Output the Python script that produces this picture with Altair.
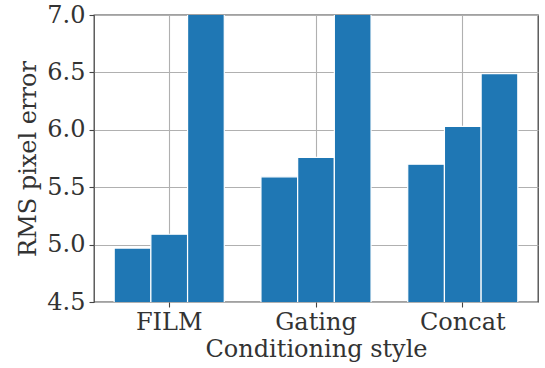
import altair as alt
import pandas as pd

groups = ["FILM", "Gating", "Concat"]
series = ["bar 1", "bar 2", "bar 3"]
bar1 = [4.97, 5.59, 5.70]
bar2 = [5.09, 5.76, 6.03]
bar3 = [7.40, 7.40, 6.49]
y_ticks = [4.5, 5.0, 5.5, 6.0, 6.5, 7.0]

rows = []
for i, g in enumerate(groups):
    for s, vals in zip(series, [bar1, bar2, bar3]):
        rows.append({"group": g, "series": s, "value": vals[i]})
df = pd.DataFrame(rows)

FONT = "DejaVu Serif"
TEXT = "#333333"
FS = 24

chart = (
    alt.Chart(df)
    .mark_bar(clip=True, color="#1f77b4", stroke="white", strokeWidth=1.2)
    .encode(
        x=alt.X(
            "group:N",
            sort=groups,
            scale=alt.Scale(paddingInner=0.25, paddingOuter=0.1375),
            axis=alt.Axis(
                title="Conditioning style",
                labelAngle=0,
                grid=True,
                bandPosition=0.5,
                gridColor="#b0b0b0",
                gridWidth=1.1,
                domain=False,
                ticks=True,
                tickSize=5,
                tickColor="#444444",
                tickWidth=1.1,
                labelPadding=3,
                labelFont=FONT,
                labelFontSize=FS,
                labelColor=TEXT,
                titleFont=FONT,
                titleFontSize=FS,
                titleFontWeight="normal",
                titleColor=TEXT,
                titlePadding=3,
            ),
        ),
        xOffset=alt.XOffset("series:N", sort=series, scale=alt.Scale(paddingInner=0, paddingOuter=0)),
        y=alt.Y(
            "value:Q",
            scale=alt.Scale(domain=[4.5, 7.0], nice=False, zero=False),
            axis=alt.Axis(
                title="RMS pixel error",
                values=y_ticks,
                format=".1f",
                grid=True,
                gridColor="#b0b0b0",
                gridWidth=1.1,
                domain=False,
                ticks=True,
                tickSize=5,
                tickColor="#444444",
                tickWidth=1.1,
                labelPadding=4,
                labelFont=FONT,
                labelFontSize=FS,
                labelColor=TEXT,
                titleFont=FONT,
                titleFontSize=FS,
                titleFontWeight="normal",
                titleColor=TEXT,
                titlePadding=6,
            ),
        ),
        y2=alt.datum(0),
    )
    .properties(
        width=444,
        height=287,
        autosize=alt.AutoSizeParams(type="none"),
        padding={"left": 94, "top": 15, "right": 7, "bottom": 66},
    )
    .configure_view(stroke="#444444", strokeWidth=1.3)
)

chart.save("out.html", embed_options={"renderer": "svg", "actions": False})
